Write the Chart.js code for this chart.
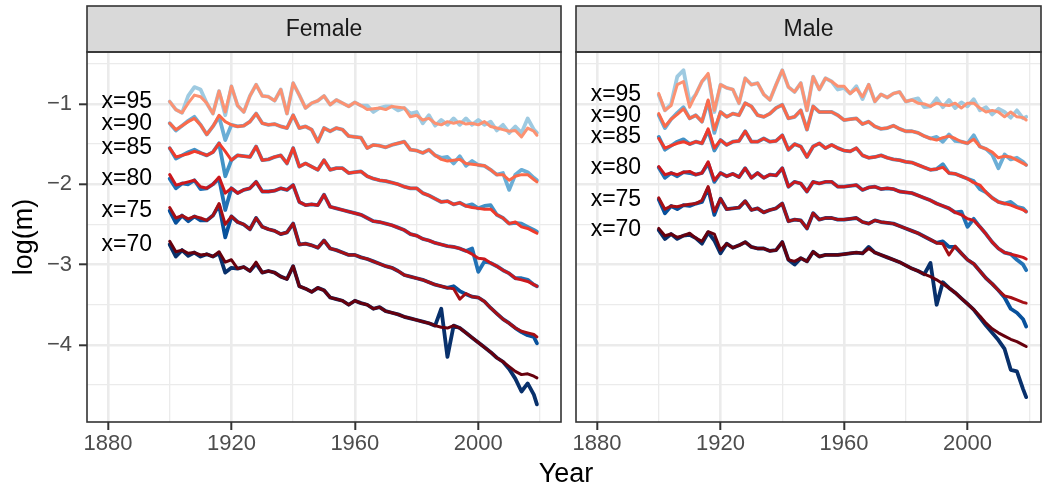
<!DOCTYPE html>
<html>
<head>
<meta charset="utf-8">
<title>log(m) by age and year</title>
<script src="https://cdn.jsdelivr.net/npm/chart.js@4.4.1/dist/chart.umd.min.js"></script>
<style>
  body { margin: 0; background: #fff; }
  #wrap { position: relative; width: 1045px; height: 488px; overflow: hidden; font-family: "Liberation Sans", Arial, sans-serif; }
  canvas { position: absolute; top: 0; }
  #female { left: 0; }
  #male { left: 565px; }
  #xtitle { position: absolute; left: 566px; top: 460px; transform: translateX(-50%); font-size: 27px; line-height: 27px; color: #000; }
</style>
</head>
<body>
<div id="wrap">
  <canvas id="female" width="562" height="488"></canvas>
  <canvas id="male" width="480" height="488"></canvas>
  <div id="xtitle">Year</div>
</div>
<script>
// years sampled every second year, plus the last one
const YEARS = [1900,1902,1904,1906,1908,1910,1912,1914,1916,1918,1920,1922,1924,1926,1928,1930,1932,1934,1936,1938,
  1940,1942,1944,1946,1948,1950,1952,1954,1956,1958,1960,1962,1964,1966,1968,1970,1972,1974,1976,1978,
  1980,1982,1984,1986,1988,1990,1992,1994,1996,1998,2000,2002,2004,2006,2008,2010,2012,2014,2016,2018,2019];

const AGES = [95, 90, 85, 80, 75, 70];
const X_TICKS = [1880, 1900, 1920, 1940, 1960, 1980, 2000, 2020];
const Y_TICKS = [-4.5, -4, -3.5, -3, -2.5, -2, -1.5, -1, -0.5];

// observed log death rates (blue) and fitted (red), female
const F95_OBS = [-0.97,-1.07,-1.11,-0.90,-0.79,-0.82,-0.99,-1.12,-0.84,-1.14,-0.78,-1.02,-1.10,-0.90,-0.76,-0.90,-0.91,-0.96,-0.82,-1.12,-0.74,-0.89,-1.05,-0.99,-0.96,-0.90,-1.01,-0.95,-0.99,-1.03,-0.98,-1.02,-1.02,-1.10,-1.05,-1.03,-1.03,-1.08,-1.05,-1.12,-1.10,-1.24,-1.14,-1.27,-1.20,-1.26,-1.18,-1.26,-1.18,-1.26,-1.20,-1.26,-1.22,-1.33,-1.26,-1.36,-1.28,-1.36,-1.18,-1.32,-1.36];
const F95_FIT = [-0.97,-1.07,-1.11,-0.99,-0.89,-0.91,-0.99,-1.12,-0.84,-1.10,-0.78,-1.02,-1.10,-0.90,-0.76,-0.90,-0.91,-0.96,-0.82,-1.12,-0.74,-0.89,-1.05,-0.99,-0.96,-0.90,-1.01,-0.95,-0.99,-1.03,-0.98,-1.02,-1.07,-1.06,-1.05,-1.07,-1.03,-1.04,-1.05,-1.16,-1.14,-1.20,-1.18,-1.24,-1.26,-1.22,-1.24,-1.22,-1.25,-1.24,-1.26,-1.22,-1.28,-1.30,-1.32,-1.34,-1.33,-1.41,-1.30,-1.34,-1.39];
const F90_OBS = [-1.24,-1.33,-1.27,-1.21,-1.16,-1.26,-1.38,-1.28,-1.16,-1.45,-1.26,-1.28,-1.27,-1.22,-1.12,-1.24,-1.26,-1.25,-1.28,-1.30,-1.14,-1.30,-1.28,-1.32,-1.47,-1.30,-1.34,-1.30,-1.32,-1.40,-1.41,-1.42,-1.55,-1.51,-1.52,-1.54,-1.51,-1.49,-1.47,-1.57,-1.58,-1.61,-1.57,-1.64,-1.67,-1.66,-1.74,-1.65,-1.77,-1.71,-1.76,-1.77,-1.82,-1.88,-1.86,-2.07,-1.88,-1.82,-1.85,-1.92,-1.95];
const F90_FIT = [-1.24,-1.32,-1.27,-1.22,-1.18,-1.26,-1.38,-1.28,-1.14,-1.22,-1.26,-1.28,-1.27,-1.22,-1.12,-1.24,-1.26,-1.25,-1.28,-1.30,-1.14,-1.30,-1.28,-1.32,-1.47,-1.30,-1.34,-1.30,-1.32,-1.40,-1.41,-1.42,-1.55,-1.51,-1.52,-1.54,-1.51,-1.49,-1.47,-1.57,-1.58,-1.61,-1.57,-1.64,-1.69,-1.71,-1.70,-1.69,-1.74,-1.75,-1.76,-1.77,-1.82,-1.88,-1.88,-1.95,-1.90,-1.88,-1.88,-1.94,-1.97];
const F85_OBS = [-1.55,-1.68,-1.64,-1.60,-1.57,-1.61,-1.64,-1.60,-1.49,-1.90,-1.70,-1.64,-1.65,-1.66,-1.53,-1.70,-1.69,-1.66,-1.64,-1.74,-1.55,-1.78,-1.74,-1.78,-1.82,-1.70,-1.82,-1.80,-1.80,-1.86,-1.85,-1.84,-1.90,-1.93,-1.95,-1.96,-1.98,-2.00,-2.03,-2.05,-2.05,-2.11,-2.14,-2.18,-2.22,-2.21,-2.25,-2.23,-2.27,-2.25,-2.30,-2.27,-2.26,-2.38,-2.42,-2.49,-2.48,-2.49,-2.53,-2.57,-2.59];
const F85_FIT = [-1.55,-1.66,-1.64,-1.62,-1.59,-1.61,-1.64,-1.60,-1.49,-1.59,-1.70,-1.64,-1.65,-1.66,-1.53,-1.70,-1.69,-1.66,-1.64,-1.74,-1.55,-1.78,-1.74,-1.78,-1.82,-1.70,-1.82,-1.80,-1.80,-1.86,-1.85,-1.84,-1.90,-1.93,-1.95,-1.96,-1.98,-2.00,-2.03,-2.05,-2.05,-2.11,-2.14,-2.18,-2.22,-2.21,-2.25,-2.23,-2.27,-2.29,-2.30,-2.31,-2.31,-2.38,-2.42,-2.49,-2.47,-2.53,-2.55,-2.59,-2.61];
const F80_OBS = [-1.93,-2.05,-1.99,-2.00,-1.95,-2.06,-2.05,-2.00,-1.93,-2.32,-2.05,-2.11,-2.07,-2.05,-1.97,-2.09,-2.09,-2.08,-2.05,-2.07,-2.01,-2.22,-2.26,-2.25,-2.26,-2.13,-2.28,-2.30,-2.32,-2.34,-2.36,-2.38,-2.42,-2.46,-2.47,-2.49,-2.51,-2.54,-2.57,-2.62,-2.64,-2.68,-2.70,-2.73,-2.75,-2.77,-2.78,-2.80,-2.83,-2.80,-3.09,-2.96,-2.98,-3.02,-3.07,-3.11,-3.17,-3.17,-3.19,-3.25,-3.27];
const F80_FIT = [-1.88,-2.01,-1.99,-1.97,-1.95,-2.03,-2.05,-2.00,-1.91,-2.11,-2.05,-2.11,-2.07,-2.05,-1.97,-2.09,-2.09,-2.08,-2.05,-2.07,-2.01,-2.22,-2.26,-2.25,-2.26,-2.13,-2.28,-2.30,-2.32,-2.34,-2.36,-2.38,-2.42,-2.46,-2.47,-2.49,-2.51,-2.54,-2.57,-2.62,-2.64,-2.68,-2.70,-2.73,-2.75,-2.77,-2.78,-2.80,-2.83,-2.87,-2.92,-2.93,-2.98,-3.02,-3.07,-3.11,-3.17,-3.19,-3.21,-3.25,-3.27];
const F75_OBS = [-2.33,-2.48,-2.39,-2.46,-2.40,-2.45,-2.45,-2.39,-2.26,-2.66,-2.40,-2.47,-2.50,-2.56,-2.42,-2.53,-2.56,-2.58,-2.62,-2.60,-2.49,-2.75,-2.74,-2.76,-2.79,-2.70,-2.80,-2.82,-2.85,-2.88,-2.88,-2.91,-2.93,-2.96,-2.99,-3.02,-3.04,-3.08,-3.13,-3.15,-3.17,-3.19,-3.22,-3.25,-3.27,-3.29,-3.27,-3.33,-3.37,-3.40,-3.41,-3.46,-3.54,-3.61,-3.68,-3.73,-3.79,-3.84,-3.88,-3.90,-3.98];
const F75_FIT = [-2.29,-2.42,-2.39,-2.43,-2.40,-2.42,-2.45,-2.39,-2.24,-2.50,-2.40,-2.47,-2.50,-2.56,-2.42,-2.53,-2.56,-2.58,-2.62,-2.60,-2.49,-2.75,-2.74,-2.76,-2.79,-2.70,-2.80,-2.82,-2.85,-2.88,-2.88,-2.91,-2.93,-2.96,-2.99,-3.02,-3.04,-3.08,-3.13,-3.15,-3.17,-3.19,-3.22,-3.25,-3.27,-3.29,-3.30,-3.43,-3.36,-3.40,-3.41,-3.46,-3.54,-3.61,-3.68,-3.73,-3.79,-3.83,-3.85,-3.87,-3.90];
const F70_OBS = [-2.75,-2.90,-2.82,-2.89,-2.85,-2.90,-2.87,-2.90,-2.86,-3.10,-3.04,-3.05,-3.03,-3.08,-2.99,-3.10,-3.08,-3.10,-3.15,-3.18,-3.02,-3.27,-3.30,-3.34,-3.29,-3.32,-3.41,-3.43,-3.45,-3.50,-3.45,-3.48,-3.50,-3.55,-3.53,-3.58,-3.60,-3.62,-3.65,-3.67,-3.69,-3.71,-3.73,-3.76,-3.55,-4.15,-3.76,-3.79,-3.85,-3.91,-3.97,-4.03,-4.09,-4.16,-4.21,-4.30,-4.42,-4.58,-4.48,-4.62,-4.74];
const F70_FIT = [-2.71,-2.84,-2.82,-2.86,-2.85,-2.88,-2.87,-2.90,-2.84,-2.97,-2.94,-3.05,-3.03,-3.08,-2.97,-3.10,-3.08,-3.10,-3.15,-3.18,-3.02,-3.27,-3.30,-3.34,-3.29,-3.32,-3.41,-3.43,-3.45,-3.50,-3.45,-3.48,-3.50,-3.55,-3.53,-3.58,-3.60,-3.62,-3.65,-3.67,-3.69,-3.71,-3.73,-3.76,-3.78,-3.79,-3.76,-3.79,-3.85,-3.91,-3.97,-4.03,-4.09,-4.16,-4.21,-4.27,-4.33,-4.37,-4.36,-4.39,-4.41];

// male
const M95_OBS = [-0.89,-1.08,-1.00,-0.66,-0.58,-0.98,-0.88,-0.72,-0.64,-1.10,-0.76,-0.80,-0.82,-0.99,-0.68,-0.76,-0.74,-0.88,-0.95,-0.76,-0.58,-0.79,-0.85,-0.74,-1.08,-0.66,-0.82,-0.68,-0.72,-0.82,-0.80,-0.87,-0.78,-0.94,-0.76,-0.97,-0.88,-0.92,-0.87,-0.85,-0.97,-0.95,-0.93,-1.04,-1.03,-0.93,-1.04,-0.95,-1.05,-0.98,-1.03,-0.94,-1.08,-1.04,-1.13,-1.06,-1.10,-1.17,-1.08,-1.18,-1.16];
const M95_FIT = [-0.87,-1.08,-1.02,-0.76,-0.72,-1.04,-0.88,-0.72,-0.62,-1.08,-0.76,-0.80,-0.82,-0.99,-0.68,-0.76,-0.74,-0.88,-0.95,-0.76,-0.58,-0.79,-0.85,-0.74,-1.08,-0.66,-0.82,-0.68,-0.72,-0.78,-0.78,-0.87,-0.81,-0.91,-0.76,-0.97,-0.88,-0.92,-0.87,-0.85,-0.97,-0.95,-0.99,-1.00,-1.03,-0.99,-1.01,-1.02,-0.99,-1.05,-0.99,-0.99,-1.05,-1.10,-1.08,-1.10,-1.16,-1.10,-1.16,-1.17,-1.20];
const M90_OBS = [-1.14,-1.30,-1.19,-1.11,-1.04,-1.18,-1.14,-1.22,-0.97,-1.36,-1.10,-1.16,-1.12,-1.14,-0.99,-1.03,-1.14,-1.16,-1.12,-1.05,-1.01,-1.18,-1.16,-1.08,-1.32,-1.03,-1.10,-1.10,-1.10,-1.14,-1.20,-1.19,-1.18,-1.25,-1.22,-1.28,-1.31,-1.30,-1.27,-1.31,-1.34,-1.34,-1.36,-1.40,-1.43,-1.41,-1.47,-1.38,-1.46,-1.47,-1.49,-1.39,-1.53,-1.56,-1.63,-1.80,-1.63,-1.69,-1.67,-1.72,-1.76];
const M90_FIT = [-1.12,-1.28,-1.19,-1.13,-1.06,-1.18,-1.14,-1.22,-0.95,-1.32,-1.10,-1.16,-1.12,-1.14,-0.99,-1.03,-1.14,-1.16,-1.12,-1.05,-1.01,-1.18,-1.16,-1.08,-1.32,-1.03,-1.10,-1.10,-1.10,-1.14,-1.20,-1.19,-1.18,-1.25,-1.22,-1.28,-1.31,-1.30,-1.27,-1.31,-1.34,-1.34,-1.36,-1.40,-1.43,-1.45,-1.42,-1.40,-1.43,-1.47,-1.49,-1.44,-1.53,-1.56,-1.60,-1.67,-1.65,-1.66,-1.70,-1.74,-1.76];
const M85_OBS = [-1.41,-1.57,-1.52,-1.47,-1.44,-1.50,-1.47,-1.49,-1.33,-1.58,-1.45,-1.51,-1.47,-1.46,-1.34,-1.47,-1.47,-1.43,-1.47,-1.46,-1.39,-1.57,-1.50,-1.53,-1.66,-1.53,-1.49,-1.55,-1.51,-1.55,-1.58,-1.59,-1.55,-1.64,-1.67,-1.66,-1.64,-1.67,-1.69,-1.70,-1.72,-1.73,-1.76,-1.79,-1.82,-1.81,-1.75,-1.86,-1.87,-1.90,-1.93,-1.96,-2.06,-2.10,-2.17,-2.22,-2.24,-2.22,-2.28,-2.30,-2.34];
const M85_FIT = [-1.43,-1.55,-1.52,-1.49,-1.47,-1.50,-1.47,-1.49,-1.31,-1.55,-1.45,-1.51,-1.47,-1.46,-1.34,-1.47,-1.47,-1.43,-1.47,-1.46,-1.39,-1.57,-1.50,-1.53,-1.66,-1.53,-1.49,-1.55,-1.51,-1.55,-1.58,-1.59,-1.55,-1.64,-1.67,-1.66,-1.64,-1.67,-1.69,-1.70,-1.72,-1.73,-1.76,-1.79,-1.82,-1.81,-1.79,-1.86,-1.87,-1.90,-1.93,-1.98,-2.01,-2.10,-2.17,-2.22,-2.24,-2.26,-2.29,-2.32,-2.34];
const M80_OBS = [-1.79,-1.92,-1.86,-1.90,-1.85,-1.86,-1.88,-1.86,-1.74,-1.97,-1.86,-1.90,-1.87,-1.91,-1.80,-1.92,-1.86,-1.92,-1.88,-1.89,-1.80,-2.03,-1.97,-1.99,-2.09,-1.97,-1.99,-1.97,-1.97,-2.03,-2.03,-2.02,-2.01,-2.07,-2.04,-2.03,-2.06,-2.05,-2.06,-2.09,-2.10,-2.11,-2.14,-2.17,-2.20,-2.24,-2.27,-2.30,-2.35,-2.34,-2.53,-2.43,-2.53,-2.62,-2.72,-2.80,-2.85,-2.87,-2.94,-3.00,-3.07];
const M80_FIT = [-1.78,-1.88,-1.86,-1.88,-1.85,-1.84,-1.88,-1.86,-1.72,-1.95,-1.86,-1.90,-1.87,-1.91,-1.80,-1.92,-1.86,-1.92,-1.88,-1.89,-1.80,-2.03,-1.97,-1.99,-2.09,-1.97,-1.99,-1.97,-1.97,-2.03,-2.03,-2.02,-2.01,-2.07,-2.04,-2.03,-2.06,-2.05,-2.06,-2.09,-2.10,-2.11,-2.14,-2.17,-2.20,-2.24,-2.27,-2.30,-2.35,-2.38,-2.43,-2.45,-2.53,-2.62,-2.72,-2.80,-2.85,-2.87,-2.89,-2.91,-2.93];
const M75_OBS = [-2.19,-2.36,-2.27,-2.31,-2.26,-2.27,-2.24,-2.22,-2.05,-2.38,-2.18,-2.31,-2.30,-2.29,-2.21,-2.32,-2.30,-2.35,-2.32,-2.30,-2.24,-2.46,-2.44,-2.45,-2.55,-2.36,-2.44,-2.42,-2.42,-2.44,-2.44,-2.43,-2.42,-2.47,-2.49,-2.45,-2.47,-2.48,-2.49,-2.52,-2.55,-2.58,-2.61,-2.65,-2.69,-2.73,-2.71,-2.78,-2.78,-2.86,-2.94,-2.99,-3.08,-3.17,-3.24,-3.32,-3.41,-3.55,-3.60,-3.68,-3.77];
const M75_FIT = [-2.17,-2.31,-2.27,-2.28,-2.26,-2.25,-2.24,-2.20,-2.03,-2.34,-2.18,-2.31,-2.30,-2.29,-2.21,-2.32,-2.30,-2.35,-2.32,-2.30,-2.24,-2.46,-2.44,-2.45,-2.55,-2.36,-2.44,-2.42,-2.42,-2.44,-2.44,-2.43,-2.42,-2.47,-2.49,-2.45,-2.47,-2.48,-2.49,-2.52,-2.55,-2.58,-2.61,-2.65,-2.69,-2.73,-2.74,-2.88,-2.77,-2.86,-2.94,-2.99,-3.08,-3.17,-3.24,-3.32,-3.39,-3.41,-3.44,-3.47,-3.48];
const M70_OBS = [-2.57,-2.68,-2.62,-2.68,-2.64,-2.63,-2.67,-2.74,-2.60,-2.70,-2.86,-2.74,-2.79,-2.76,-2.72,-2.78,-2.80,-2.80,-2.83,-2.82,-2.72,-2.94,-3.00,-2.92,-2.96,-2.84,-2.90,-2.88,-2.88,-2.88,-2.87,-2.86,-2.85,-2.86,-2.78,-2.85,-2.88,-2.91,-2.94,-2.97,-3.01,-3.05,-3.08,-3.12,-2.98,-3.50,-3.22,-3.29,-3.35,-3.42,-3.49,-3.56,-3.66,-3.76,-3.85,-3.94,-4.05,-4.31,-4.33,-4.55,-4.65];
const M70_FIT = [-2.55,-2.64,-2.62,-2.66,-2.64,-2.61,-2.67,-2.71,-2.59,-2.62,-2.82,-2.74,-2.79,-2.76,-2.72,-2.78,-2.80,-2.80,-2.83,-2.82,-2.72,-2.94,-2.96,-2.92,-2.96,-2.84,-2.90,-2.88,-2.88,-2.88,-2.87,-2.86,-2.85,-2.86,-2.80,-2.85,-2.88,-2.91,-2.94,-2.97,-3.01,-3.05,-3.08,-3.12,-3.15,-3.19,-3.24,-3.29,-3.35,-3.42,-3.49,-3.56,-3.64,-3.73,-3.80,-3.85,-3.89,-3.93,-3.96,-4.00,-4.02];

const OBS_COLORS = ['#9ECAE1', '#6BAED6', '#4292C6', '#2171B5', '#08519C', '#08306B'];
const FIT_COLORS = ['#FC9272', '#FB6A4A', '#EF3B2C', '#CB181D', '#A50F15', '#67000D'];

const FONT = 'Liberation Sans';
const INK = '#333333';
const STRIP_TOP = 6;
const LABEL_YEAR = 1894.3;

Chart.defaults.font.family = FONT;

// grey strip with facet name, plus the dark frame round the panel
const panelFrame = {
  id: 'panelFrame',
  afterDraw(chart, args, opts) {
    const { ctx, chartArea: a } = chart;
    ctx.save();
    ctx.fillStyle = '#D9D9D9';
    ctx.fillRect(a.left, STRIP_TOP, a.right - a.left, a.top - STRIP_TOP);
    ctx.strokeStyle = INK;
    ctx.lineWidth = 1.6;
    ctx.strokeRect(a.left, STRIP_TOP, a.right - a.left, a.top - STRIP_TOP);
    ctx.strokeRect(a.left, a.top, a.right - a.left, a.bottom - a.top);
    ctx.fillStyle = '#1A1A1A';
    ctx.font = `23px "${FONT}"`;
    ctx.textAlign = 'center';
    ctx.textBaseline = 'middle';
    ctx.fillText(opts.title, (a.left + a.right) / 2, (STRIP_TOP + a.top) / 2 + 1);
    ctx.restore();
  }
};

// "x=95" ... next to where each age starts
const ageLabels = {
  id: 'ageLabels',
  afterDatasetsDraw(chart, args, opts) {
    const { ctx, scales: { x, y } } = chart;
    ctx.save();
    ctx.fillStyle = '#000';
    ctx.font = `23px "${FONT}"`;
    ctx.textAlign = 'right';
    ctx.textBaseline = 'middle';
    AGES.forEach((age, i) => {
      ctx.fillText(`x=${age}`, x.getPixelForValue(LABEL_YEAR), y.getPixelForValue(opts.starts[i]));
    });
    ctx.restore();
  }
};

function series(values) {
  return YEARS.map((yr, i) => ({ x: yr, y: values[i] }));
}

function buildDatasets(obs, fit) {
  const sets = [];
  AGES.forEach((age, i) => {
    sets.push({ label: `observed x=${age}`, data: series(obs[i]), borderColor: OBS_COLORS[i], borderWidth: 3.8, order: 1 });
    sets.push({ label: `fitted x=${age}`, data: series(fit[i]), borderColor: FIT_COLORS[i], borderWidth: 3, order: 0 });
  });
  return sets.map(s => ({ ...s, pointRadius: 0, tension: 0, borderJoinStyle: 'round', borderCapStyle: 'round', fill: false }));
}

const minus = v => (v < 0 ? '\u2212' : '') + Math.abs(v);

function renderPanel(canvasId, title, obs, fit, leftAxis, xMax, padRight) {
  const tickFont = { family: FONT, size: 22 };
  return new Chart(document.getElementById(canvasId), {
    type: 'line',
    data: { datasets: buildDatasets(obs, fit) },
    plugins: [panelFrame, ageLabels],
    options: {
      responsive: false, animation: false, devicePixelRatio: 1, events: [],
      parsing: false, normalized: true,
      layout: { padding: { top: 52, right: padRight, bottom: 0, left: 0 } },
      plugins: {
        legend: { display: false }, tooltip: { enabled: false },
        panelFrame: { title },
        ageLabels: { starts: obs.map(a => a[0]) }
      },
      scales: {
        x: {
          type: 'linear', min: 1873.2, max: xMax,
          afterBuildTicks: s => { s.ticks = X_TICKS.map(v => ({ value: v })); },
          afterFit: s => { s.height = 66; },
          border: { display: false },
          grid: {
            color: '#EBEBEB', tickLength: 8,
            lineWidth: c => (c.tick && c.tick.value % 40 === 0 ? 2.6 : 1.3),
            tickColor: c => (c.tick && c.tick.value % 40 === 0 ? INK : 'rgba(0,0,0,0)'),
            tickWidth: 2
          },
          ticks: {
            autoSkip: false, maxRotation: 0, padding: 1, color: '#4D4D4D', font: tickFont,
            callback: v => (v % 40 === 0 ? String(v) : '')
          }
        },
        y: {
          type: 'linear', min: -4.96, max: -0.353,
          afterBuildTicks: s => { s.ticks = Y_TICKS.map(v => ({ value: v })); },
          afterFit: s => { s.width = leftAxis ? 87 : 11; },
          border: { display: false },
          grid: {
            color: '#EBEBEB', drawTicks: leftAxis, tickLength: 8,
            lineWidth: c => (c.tick && Number.isInteger(c.tick.value) ? 2.6 : 1.3),
            tickColor: c => (c.tick && Number.isInteger(c.tick.value) ? INK : 'rgba(0,0,0,0)'),
            tickWidth: 2
          },
          ticks: {
            display: leftAxis, autoSkip: false, padding: 7, color: '#4D4D4D', font: tickFont,
            callback: v => (Number.isInteger(v) ? minus(v) : '')
          },
          title: {
            display: leftAxis, text: 'log(m)', color: '#000',
            font: { family: FONT, size: 27 }, padding: { top: 8, bottom: 0 }
          }
        }
      }
    }
  });
}

renderPanel('female', 'Female',
  [F95_OBS, F90_OBS, F85_OBS, F80_OBS, F75_OBS, F70_OBS],
  [F95_FIT, F90_FIT, F85_FIT, F80_FIT, F75_FIT, F70_FIT], true, 2026.8, 1);
renderPanel('male', 'Male',
  [M95_OBS, M90_OBS, M85_OBS, M80_OBS, M75_OBS, M70_OBS],
  [M95_FIT, M90_FIT, M85_FIT, M80_FIT, M75_FIT, M70_FIT], false, 2023.8, 4);
</script>
</body>
</html>
